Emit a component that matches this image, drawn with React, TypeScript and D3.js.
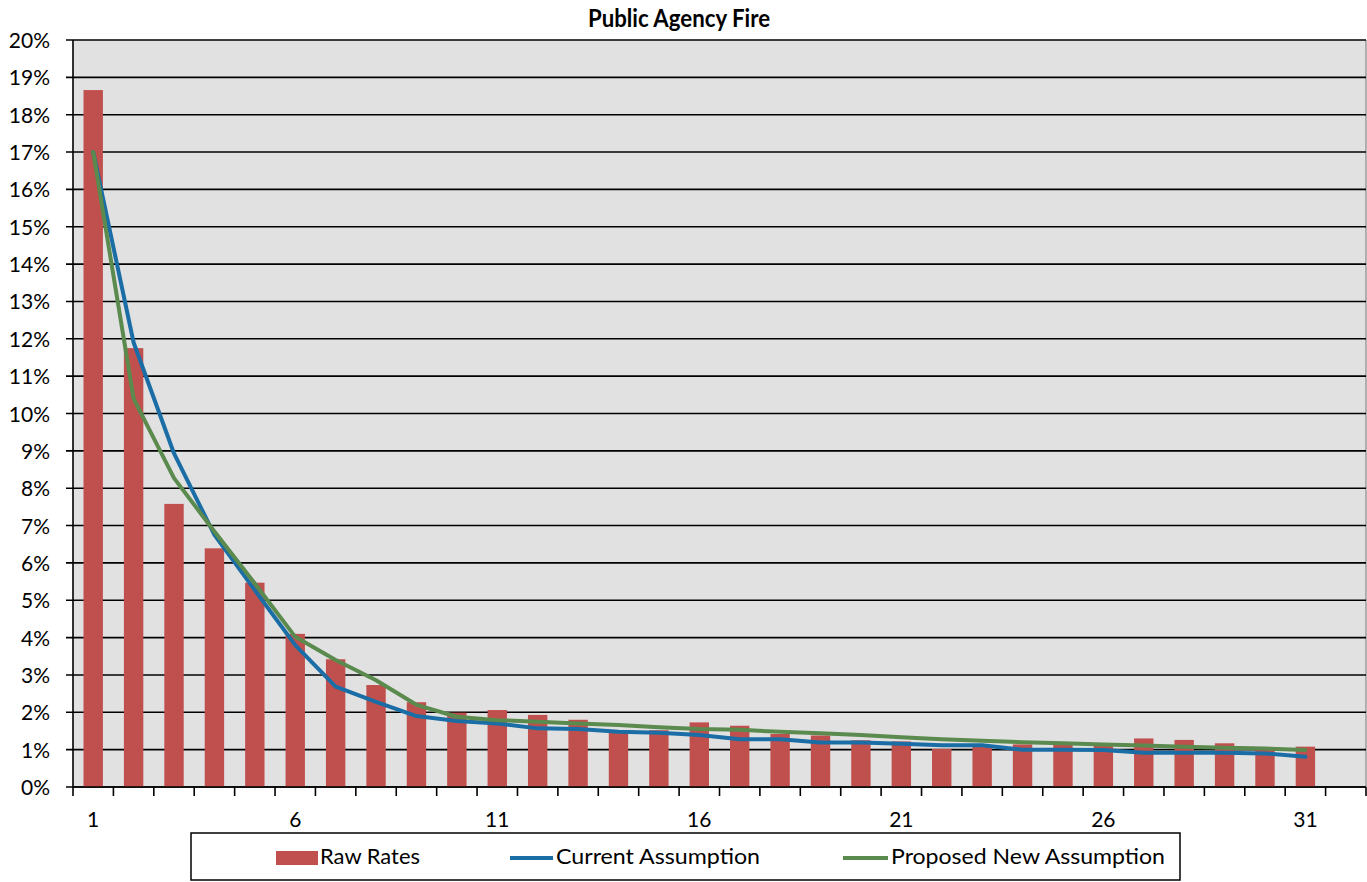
import React from "react";
import * as d3 from "d3";

const periods = Array.from({ length: 32 }, (_, i) => i + 1);
const rawRates = [18.66, 11.75, 7.58, 6.39, 5.47, 4.1, 3.42, 2.73, 2.27, 1.99, 2.06, 1.93, 1.8, 1.5, 1.52, 1.73, 1.64, 1.42, 1.38, 1.25, 1.22, 1.02, 1.1, 1.14, 1.15, 1.1, 1.3, 1.26, 1.17, 0.99, 1.08];
const currentAssumption = [17.0, 11.9, 8.93, 6.75, 5.27, 3.8, 2.69, 2.28, 1.9, 1.77, 1.7, 1.57, 1.55, 1.48, 1.45, 1.39, 1.28, 1.28, 1.19, 1.19, 1.16, 1.12, 1.12, 1.0, 1.0, 0.99, 0.92, 0.92, 0.92, 0.9, 0.81];
const proposedAssumption = [17.0, 10.4, 8.27, 6.84, 5.45, 4.02, 3.4, 2.86, 2.2, 1.88, 1.79, 1.75, 1.7, 1.66, 1.6, 1.55, 1.53, 1.48, 1.44, 1.39, 1.33, 1.28, 1.24, 1.2, 1.17, 1.14, 1.11, 1.08, 1.05, 1.03, 0.99];
const yTicks = d3.range(0, 21, 1);
const xLabels = [1, 6, 11, 16, 21, 26, 31];
const seriesNames = ["Raw Rates", "Current Assumption", "Proposed New Assumption"];

const FONT = "Lato, 'Open Sans', sans-serif";
const BAR = "#C0504D";
const BLUE = "#1A6DA5";
const GREEN = "#5A8A4D";

export default function App() {
  const left = 73, right = 1366, top = 40, bottom = 787;
  const x = d3.scaleBand<number>().domain(periods).range([left, right]).paddingInner(0.52).paddingOuter(0.26);
  const y = d3.scaleLinear().domain([0, 20]).range([bottom, top]);
  const step = x.step();
  const cx = (p: number) => (x(p) as number) + x.bandwidth() / 2;
  const line = d3.line<number>().x((_, i) => cx(i + 1)).y((d) => y(d));
  const boundaries = d3.range(0, periods.length + 1).map((k) => left + k * step);

  return (
    <svg width={1367} height={882} style={{ position: "absolute", left: 0, top: 0, background: "#fff" }}>
      <text x={588} y={27} fontFamily={FONT} fontWeight="bold" fontSize={25} fill="#000" textLength={182} lengthAdjust="spacingAndGlyphs">
        Public Agency Fire
      </text>
      <rect x={left} y={top} width={right - left} height={bottom - top} fill="#E1E1E1" />
      <line x1={right} x2={right} y1={top} y2={bottom} stroke="#9a9a9a" strokeWidth={1.5} />
      {yTicks.map((t) => (
        <g key={t}>
          <line x1={left - 7} x2={right} y1={y(t)} y2={y(t)} stroke="#000" strokeWidth={1.6} />
          <text x={50} y={y(t) + 8} textAnchor="end" fontFamily={FONT} fontSize={21} fill="#000">
            {t}%
          </text>
        </g>
      ))}
      {rawRates.map((v, i) => (
        <rect key={i} x={x(i + 1)} y={y(v)} width={x.bandwidth()} height={bottom - y(v)} fill={BAR} />
      ))}
      <path d={line(currentAssumption) || ""} fill="none" stroke={BLUE} strokeWidth={4} strokeLinejoin="round" strokeLinecap="round" />
      <path d={line(proposedAssumption) || ""} fill="none" stroke={GREEN} strokeWidth={4} strokeLinejoin="round" strokeLinecap="round" />
      <line x1={left} x2={left} y1={top} y2={bottom} stroke="#000" strokeWidth={1.6} />
      <line x1={left} x2={right} y1={bottom} y2={bottom} stroke="#000" strokeWidth={1.6} />
      {boundaries.map((b, k) => (
        <line key={k} x1={b} x2={b} y1={bottom} y2={bottom + 9} stroke="#000" strokeWidth={1.6} />
      ))}
      {xLabels.map((p) => (
        <text key={p} x={cx(p)} y={827} textAnchor="middle" fontFamily={FONT} fontSize={21} fill="#000">
          {p}
        </text>
      ))}
      <rect x={191} y={833} width={989} height={47} fill="#fff" stroke="#000" strokeWidth={1.5} />
      <rect x={276} y={851} width={42} height={14} fill={BAR} />
      <text x={320} y={864} fontFamily={FONT} fontSize={22} fill="#000" textLength={100} lengthAdjust="spacingAndGlyphs">{seriesNames[0]}</text>
      <line x1={510} x2={553} y1={858} y2={858} stroke={BLUE} strokeWidth={4} />
      <text x={556} y={864} fontFamily={FONT} fontSize={22} fill="#000" textLength={204} lengthAdjust="spacingAndGlyphs">{seriesNames[1]}</text>
      <line x1={843} x2={888} y1={858} y2={858} stroke={GREEN} strokeWidth={4} />
      <text x={891} y={864} fontFamily={FONT} fontSize={22} fill="#000" textLength={274} lengthAdjust="spacingAndGlyphs">{seriesNames[2]}</text>
    </svg>
  );
}
